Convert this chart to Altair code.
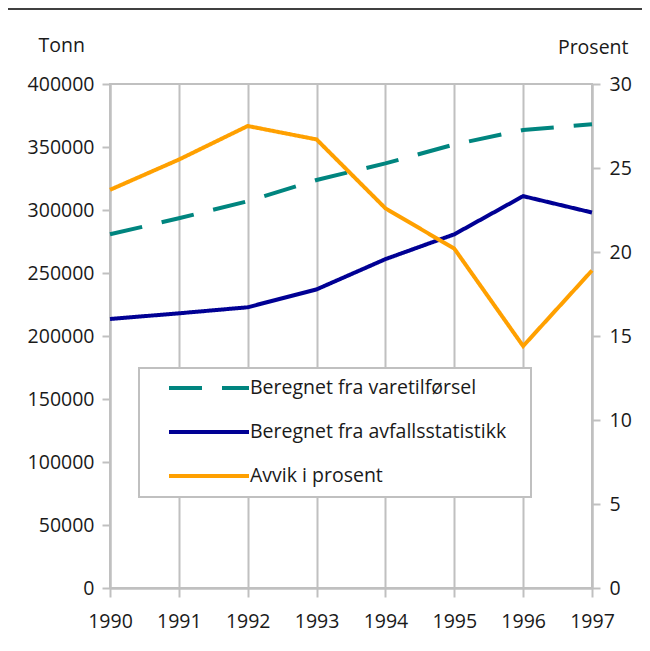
import altair as alt
import pandas as pd

years = [1990, 1991, 1992, 1993, 1994, 1995, 1996, 1997]
varetilforsel = [280700, 293400, 307000, 323800, 337000, 352000, 363500, 368000]
avfallsstatistikk = [213500, 218000, 222800, 237000, 261000, 280700, 311000, 298000]
avvik = [23.7, 25.5, 27.5, 26.7, 22.6, 20.2, 14.4, 18.9]
series = ["Beregnet fra varetilførsel", "Beregnet fra avfallsstatistikk", "Avvik i prosent"]
colors = ["#00857f", "#000094", "#ffa000"]
left_ticks = [0, 50000, 100000, 150000, 200000, 250000, 300000, 350000, 400000]
right_ticks = [0, 5, 10, 15, 20, 25, 30]

FONT = "Open Sans"
FS = 19.5
TXT = "#1a1a1a"
GRID = "#c0c0c0"

df_t = pd.DataFrame({
    "year": years * 2,
    "tonn": varetilforsel + avfallsstatistikk,
    "serie": [series[0]] * len(years) + [series[1]] * len(years),
})
df_p = pd.DataFrame({"year": years, "prosent": avvik, "serie": [series[2]] * len(years)})

leg = alt.Legend(orient="none", legendX=87, legendY=292, title=None,
                 symbolType="M-4,0H4", symbolSize=400, symbolStrokeWidth=4,
                 labelFontSize=FS, labelFont=FONT, labelColor=TXT, labelLimit=0,
                 labelOffset=29, rowPadding=22, padding=0)

color = alt.Color("serie:N", scale=alt.Scale(domain=series, range=colors), legend=leg)
dash = alt.StrokeDash("serie:N", scale=alt.Scale(domain=series, range=[[33, 20], [1, 0], [1, 0]]), legend=leg)

x = alt.X("year:Q", scale=alt.Scale(domain=[1990, 1997], nice=False, zero=False),
          axis=alt.Axis(values=years, format="d", title=None, grid=True,
                        gridColor=GRID, gridWidth=2, tickColor=GRID, tickWidth=2,
                        tickSize=9, domainColor=GRID, domainWidth=2.5, labelPadding=15,
                        labelFlush=False, labelOverlap=False,
                        labelFont=FONT, labelFontSize=FS, labelColor=TXT))

box = alt.Chart(pd.DataFrame({"a": [0]})).mark_rect(fill="white", stroke=GRID, strokeWidth=2).encode(
    x=alt.value(29), x2=alt.value(421), y=alt.value(284), y2=alt.value(413))

topline = alt.Chart(pd.DataFrame({"a": [0]})).mark_rule(color="#000000", strokeWidth=1.5).encode(
    x=alt.value(-102), x2=alt.value(548), y=alt.value(-75))

left = alt.Chart(df_t).mark_line(strokeWidth=4).encode(
    x=x,
    y=alt.Y("tonn:Q", scale=alt.Scale(domain=[0, 400000], nice=False),
            axis=alt.Axis(values=left_ticks, format="d", grid=False, title="Tonn",
                          titleAngle=0, titleX=-72, titleY=-39, titleAlign="left",
                          titleBaseline="middle", titleFont=FONT, titleFontSize=FS,
                          titleFontWeight="normal", titleColor=TXT,
                          tickSize=8, tickColor=GRID, tickWidth=2, domainColor=GRID,
                          domainWidth=2, labelPadding=8, labelFont=FONT,
                          labelFontSize=FS, labelColor=TXT)),
    color=color, strokeDash=dash)

right = alt.Chart(df_p).mark_line(strokeWidth=4).encode(
    x=x,
    y=alt.Y("prosent:Q", scale=alt.Scale(domain=[0, 30], nice=False),
            axis=alt.Axis(orient="right", values=right_ticks, format="d", grid=False,
                          title="Prosent", titleAngle=0, titleX=36, titleY=-37,
                          titleAlign="right", titleBaseline="middle", titleFont=FONT,
                          titleFontSize=FS, titleFontWeight="normal", titleColor=TXT,
                          tickSize=8, tickColor=GRID, tickWidth=2, domainColor=GRID,
                          domainWidth=2, labelPadding=9, labelFont=FONT,
                          labelFontSize=FS, labelColor=TXT)),
    color=color, strokeDash=dash)

chart = alt.layer(topline, box, left, right).resolve_scale(y="independent").properties(
    width=482, height=504,
    autosize=alt.AutoSizeParams(type="none"),
    padding={"left": 102, "top": 76, "right": 50, "bottom": 55},
).configure_view(stroke=GRID, strokeWidth=2)

chart.save("out.html", embed_options={"renderer": "svg", "actions": False})
